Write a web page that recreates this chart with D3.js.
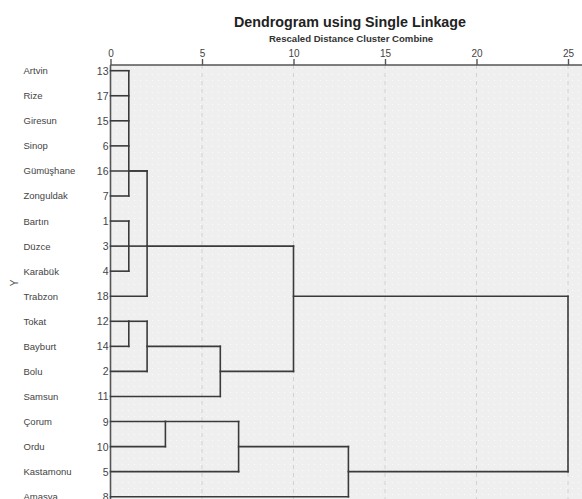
<!DOCTYPE html>
<html><head><meta charset="utf-8">
<script src="https://cdn.jsdelivr.net/npm/d3@7"></script>
<style>html,body{margin:0;padding:0;background:#fff;overflow:hidden}</style>
</head><body><svg id="c" width="582" height="499"></svg>
<script>
// ---- data ----
const leafLabels = ["Artvin","Rize","Giresun","Sinop","Gümüşhane","Zonguldak","Bartın","Düzce","Karabük","Trabzon","Tokat","Bayburt","Bolu","Samsun","Çorum","Ordu","Kastamonu","Amasya"];
const caseNumbers = [13,17,15,6,16,7,1,3,4,18,12,14,2,11,9,10,5,8];
const xTicks = [0,5,10,15,20,25];
// cluster nodes: merge height (rescaled distance), children (leaf index or "N#"), row where the node's link leaves
const nodeIds      = ["N1","N2","N3","N4","N5","N6","N7","N8","N9","N10","N11"];
const nodeHeights  = [1, 1, 2, 1, 2, 6, 10, 3, 7, 13, 25];
const nodeChildren = [[0,1,2,3,5],[6,7,8],["N1",4,"N2",9],[10,11],["N4",12],["N5",13],["N3","N6"],[14,15],["N8",16],["N9",17],["N7","N10"]];
const nodeRows     = [4, 7, 7, 10, 11, 12, 9, 14, 15, 16, 12.5];

const title = "Dendrogram using Single Linkage";
const subtitle = "Rescaled Distance Cluster Combine";
const yTitle = "Y";

// ---- drawing ----
const svg = d3.select("#c");
const x = d3.scaleLinear().domain([0,25]).range([110.5,568]);
const y = d3.scaleLinear().domain([0,17]).range([70.7,496.7]);
const plotTop = 65;

const defs = svg.append("defs");
const pat = defs.append("pattern").attr("id","dots").attr("patternUnits","userSpaceOnUse")
  .attr("width",6).attr("height",6);
pat.append("rect").attr("width",6).attr("height",6).attr("fill","#efefef");
pat.append("rect").attr("x",2).attr("y",2).attr("width",1).attr("height",1).attr("fill","#fbfbfb");

svg.append("rect").attr("x",x(0)).attr("y",plotTop).attr("width",600).attr("height",500)
  .attr("fill","url(#dots)");

// grid
svg.append("g").selectAll("line").data(xTicks.filter(d=>d>0)).join("line")
  .attr("x1",d=>x(d)).attr("x2",d=>x(d)).attr("y1",plotTop).attr("y2",520)
  .attr("stroke","#d2d2d2").attr("stroke-width",1).attr("stroke-dasharray","4,4");

// axis on top
const ax = d3.axisTop(x).tickValues(xTicks).tickSize(6).tickPadding(2);
const gAx = svg.append("g").attr("transform",`translate(0,${plotTop})`).call(ax);
gAx.select(".domain").attr("stroke","#555").attr("stroke-width",1.6).attr("d",`M${x(0)},0H600`);
gAx.selectAll(".tick line").attr("stroke","#555").attr("stroke-width",1.4);
gAx.selectAll(".tick text").attr("font-family","Liberation Sans, Arial, sans-serif").attr("font-size",10).attr("fill","#444");

// left border
svg.append("line").attr("x1",x(0)).attr("x2",x(0)).attr("y1",plotTop).attr("y2",520)
  .attr("stroke","#555").attr("stroke-width",1.6);

// titles
svg.append("text").attr("x",350).attr("y",26.5).attr("text-anchor","middle")
  .attr("font-family","Liberation Sans, Arial, sans-serif").attr("font-weight","bold").attr("font-size",14.3)
  .attr("fill","#222").text(title);
svg.append("text").attr("x",351).attr("y",42).attr("text-anchor","middle")
  .attr("font-family","Liberation Sans, Arial, sans-serif").attr("font-weight","bold").attr("font-size",9.6)
  .attr("fill","#333").text(subtitle);
svg.append("text").attr("transform","translate(18,283) rotate(-90)").attr("text-anchor","middle")
  .attr("font-family","Liberation Sans, Arial, sans-serif").attr("font-size",10).attr("fill","#555").text(yTitle);

// leaf labels
svg.append("g").selectAll("text").data(leafLabels).join("text")
  .attr("x",23.5).attr("y",(d,i)=>y(i)+3.5)
  .attr("font-family","Liberation Sans, Arial, sans-serif").attr("font-size",9.5).attr("fill","#444").text(d=>d);
svg.append("g").selectAll("text").data(caseNumbers).join("text")
  .attr("x",108.5).attr("y",(d,i)=>y(i)+4).attr("text-anchor","end")
  .attr("font-family","Liberation Sans, Arial, sans-serif").attr("font-size",10.5).attr("fill","#444").text(d=>d);

// links
const nodeInfo = {};
nodeIds.forEach((id,i)=>nodeInfo[id]={h:nodeHeights[i],row:nodeRows[i]});
const info = c => typeof c === "number" ? {h:0,row:c} : nodeInfo[c];
const segs = [];
nodeIds.forEach((id,i)=>{
  const h = nodeHeights[i];
  const kids = nodeChildren[i].map(info);
  kids.forEach(k=>segs.push([x(k.h),y(k.row),x(h),y(k.row)]));
  const rs = kids.map(k=>k.row);
  segs.push([x(h),y(d3.min(rs)),x(h),y(d3.max(rs))]);
});
svg.append("g").selectAll("line").data(segs).join("line")
  .attr("x1",d=>d[0]).attr("y1",d=>d[1]).attr("x2",d=>d[2]).attr("y2",d=>d[3])
  .attr("stroke","#3a3a3a").attr("stroke-width",1.6).attr("stroke-linecap","square");
</script></body></html>
